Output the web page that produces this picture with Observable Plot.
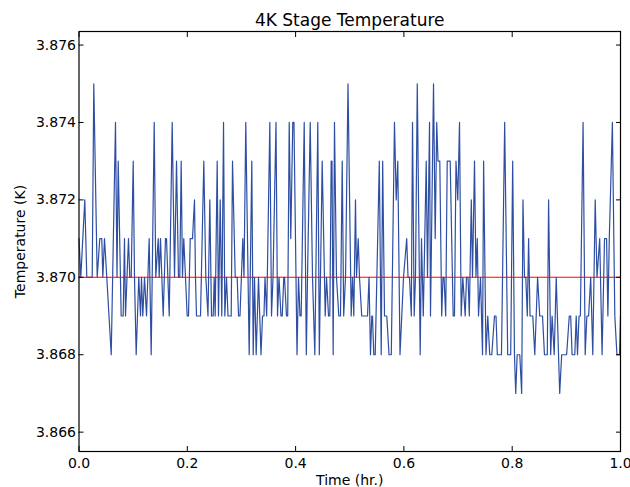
<!DOCTYPE html>
<html>
<head>
<meta charset="utf-8">
<script src="https://cdn.jsdelivr.net/npm/d3@7"></script>
<script src="https://cdn.jsdelivr.net/npm/@observablehq/plot@0.6"></script>
<style>
  html, body { margin: 0; padding: 0; background: #ffffff; }
</style>
</head>
<body>
<div id="chart"></div>
<script>
const title = "4K Stage Temperature";
const xLabel = "Time (hr.)";
const yLabel = "Temperature (K)";

const time = [0,0.0033,0.0107,0.0144,0.0244,0.0273,0.0336,0.0384,0.0421,0.0440,
0.0471,0.0513,0.0595,0.0674,0.0702,0.0724,0.0779,0.0816,0.0840,0.0859,
0.0914,0.0938,0.0964,0.1001,0.1025,0.1056,0.1104,0.1136,0.1154,0.1178,
0.1210,0.1247,0.1296,0.1333,0.1389,0.1418,0.1463,0.1481,0.1505,0.1555,
0.1597,0.1616,0.1666,0.1721,0.1764,0.1801,0.1837,0.1861,0.1887,0.1911,
0.1935,0.1998,0.2022,0.2054,0.2096,0.2133,0.2151,0.2170,0.2244,0.2305,
0.2342,0.2382,0.2416,0.2447,0.2478,0.2497,0.2515,0.2552,0.2576,0.2608,
0.2637,0.2669,0.2693,0.2724,0.2752,0.2811,0.2835,0.2885,0.2921,0.2946,
0.2973,0.3025,0.3047,0.3080,0.3143,0.3191,0.3217,0.3241,0.3272,0.3315,
0.3361,0.3389,0.3416,0.3435,0.3466,0.3524,0.3555,0.3583,0.3638,0.3666,
0.3693,0.3730,0.3753,0.3782,0.3795,0.3832,0.3854,0.3882,0.3911,0.3948,
0.3970,0.4026,0.4054,0.4081,0.4103,0.4159,0.4198,0.4220,0.4270,0.4312,
0.4355,0.4410,0.4438,0.4491,0.4547,0.4571,0.4608,0.4632,0.4657,0.4672,
0.4694,0.4718,0.4755,0.4798,0.4829,0.4861,0.4888,0.4922,0.4968,0.5027,
0.5051,0.5075,0.5106,0.5125,0.5156,0.5180,0.5221,0.5328,0.5356,0.5383,
0.5407,0.5420,0.5444,0.5470,0.5546,0.5581,0.5608,0.5642,0.5684,0.5725,
0.5767,0.5826,0.5858,0.5887,0.5928,0.5993,0.6052,0.6076,0.6103,0.6137,
0.6159,0.6190,0.6214,0.6247,0.6301,0.6325,0.6358,0.6412,0.6436,0.6473,
0.6491,0.6547,0.6578,0.6606,0.6630,0.6663,0.6698,0.6722,0.6741,0.6772,
0.6800,0.6855,0.6910,0.6934,0.6962,0.6995,0.7027,0.7058,0.7088,0.7132,
0.7156,0.7184,0.7208,0.7245,0.7267,0.7304,0.7331,0.7355,0.7378,0.7415,
0.7452,0.7472,0.7516,0.7549,0.7585,0.7623,0.7673,0.7701,0.7725,0.7802,
0.7861,0.7917,0.7972,0.8009,0.8042,0.8065,0.8092,0.8140,0.8175,0.8199,
0.8227,0.8251,0.8279,0.8303,0.8329,0.8380,0.8417,0.8469,0.8508,0.8560,
0.8596,0.8648,0.8672,0.8711,0.8737,0.8776,0.8813,0.8877,0.8914,0.9005,
0.9054,0.9080,0.9106,0.9156,0.9182,0.9206,0.9234,0.9259,0.9309,0.9348,
0.9379,0.9411,0.9450,0.9488,0.9533,0.9566,0.9616,0.9660,0.9705,0.9743,
0.9767,0.9793,0.9850,0.9895,0.9934,0.9982,1.0];

const temp = [3.871,3.870,3.872,3.870,3.870,3.875,3.870,3.871,3.871,3.870,
3.871,3.870,3.868,3.874,3.870,3.873,3.869,3.869,3.871,3.869,
3.871,3.870,3.870,3.873,3.870,3.868,3.870,3.869,3.870,3.869,
3.870,3.869,3.871,3.868,3.874,3.870,3.871,3.870,3.871,3.869,
3.871,3.871,3.869,3.874,3.870,3.873,3.870,3.870,3.873,3.870,
3.871,3.869,3.869,3.871,3.871,3.872,3.870,3.869,3.869,3.873,
3.870,3.869,3.872,3.869,3.869,3.870,3.869,3.873,3.869,3.872,
3.869,3.874,3.869,3.870,3.869,3.869,3.873,3.870,3.870,3.869,
3.869,3.871,3.870,3.874,3.868,3.873,3.868,3.870,3.868,3.870,
3.868,3.869,3.869,3.870,3.869,3.874,3.869,3.870,3.874,3.869,
3.870,3.869,3.869,3.870,3.870,3.869,3.869,3.874,3.871,3.874,
3.874,3.868,3.870,3.869,3.869,3.874,3.868,3.870,3.874,3.870,
3.868,3.874,3.868,3.873,3.869,3.870,3.869,3.869,3.873,3.873,
3.868,3.874,3.870,3.869,3.869,3.873,3.869,3.870,3.875,3.869,
3.870,3.869,3.872,3.870,3.871,3.870,3.869,3.869,3.870,3.868,
3.869,3.869,3.868,3.868,3.873,3.868,3.873,3.869,3.869,3.868,
3.868,3.874,3.872,3.873,3.868,3.870,3.871,3.870,3.870,3.869,
3.874,3.869,3.870,3.875,3.868,3.871,3.869,3.873,3.870,3.874,
3.869,3.875,3.871,3.874,3.873,3.873,3.869,3.870,3.870,3.869,
3.873,3.873,3.869,3.869,3.873,3.872,3.874,3.869,3.870,3.869,
3.870,3.870,3.869,3.872,3.870,3.873,3.870,3.871,3.869,3.870,
3.868,3.873,3.868,3.869,3.868,3.868,3.869,3.869,3.868,3.868,
3.874,3.868,3.868,3.873,3.868,3.867,3.868,3.868,3.867,3.872,
3.870,3.870,3.869,3.871,3.869,3.869,3.868,3.870,3.869,3.869,
3.868,3.868,3.872,3.868,3.869,3.868,3.870,3.867,3.868,3.868,
3.869,3.869,3.868,3.868,3.869,3.868,3.869,3.869,3.874,3.868,
3.869,3.869,3.870,3.868,3.872,3.870,3.871,3.868,3.871,3.871,
3.869,3.871,3.874,3.869,3.868,3.868,3.869];

const setpoint = [3.870];
const xTicks = [0.0, 0.2, 0.4, 0.6, 0.8, 1.0];
const yTicks = [3.866, 3.868, 3.870, 3.872, 3.874, 3.876];

const rows = time.map((t, i) => ({t, k: temp[i]}));

const chart = Plot.plot({
  width: 630,
  height: 487,
  marginLeft: 78.5,
  marginRight: 10,
  marginTop: 31,
  marginBottom: 36,
  style: {fontFamily: "DejaVu Sans", fontSize: "14px", color: "black", background: "white"},
  x: {domain: [0, 1], label: null},
  y: {domain: [3.8655, 3.87635], label: null},
  marks: [
    Plot.line(rows, {x: "t", y: "k", stroke: "#2d4ea3", strokeWidth: 1.2}),
    Plot.ruleY(setpoint, {stroke: "#ff0000", strokeWidth: 1.1}),
    Plot.frame({stroke: "black", strokeWidth: 1.2}),
    Plot.axisX(xTicks, {anchor: "bottom", tickSize: -5, tickPadding: 12, tickFormat: d => d.toFixed(1), label: null, fontSize: 14}),
    Plot.axisX(xTicks, {anchor: "top", tickSize: -5, fill: "none", label: null}),
    Plot.axisY(yTicks, {anchor: "left", tickSize: -5, tickPadding: 8, tickFormat: d => d.toFixed(3), label: null, fontSize: 14}),
    Plot.axisY(yTicks, {anchor: "right", tickSize: -5, fill: "none", label: null}),
    Plot.text([title], {text: d => d, frameAnchor: "top", lineAnchor: "middle", dy: -11, fontSize: 17}),
    Plot.text([xLabel], {text: d => d, frameAnchor: "bottom", lineAnchor: "middle", dy: 29, fontSize: 14}),
    Plot.text([yLabel], {text: d => d, frameAnchor: "left", textAnchor: "middle", lineAnchor: "middle", dx: -58, rotate: -90, fontSize: 14})
  ]
});
document.getElementById("chart").appendChild(chart);
</script>
</body>
</html>
